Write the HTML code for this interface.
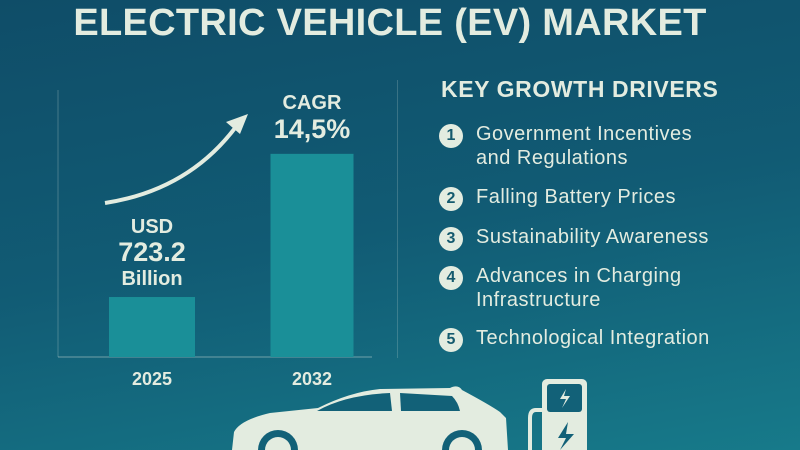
<!DOCTYPE html>
<html><head><meta charset="utf-8"><style>
html,body{margin:0;padding:0}
body{width:800px;height:450px;overflow:hidden;background:linear-gradient(170deg,#0f4d68 0%,#115b74 50%,#177a8a 100%);font-family:"Liberation Sans",sans-serif;color:#e3ece0;position:relative}
.t{position:absolute;white-space:nowrap}
</style></head><body>
<div class="t" style="left:0;width:780px;text-align:center;top:2px;font-size:38px;font-weight:bold;letter-spacing:0.3px">ELECTRIC VEHICLE (EV) MARKET</div>
<svg id="chart" width="400" height="450" style="position:absolute;left:0;top:0"></svg>
<div style="position:absolute;left:397px;top:80px;width:1px;height:278px;background:rgba(227,236,224,0.2)"></div>
<div class="t" style="left:441px;top:76px;font-size:23px;font-weight:bold;letter-spacing:0.6px">KEY GROWTH DRIVERS</div>
<div id="list"></div>
<svg width="800" height="450" style="position:absolute;left:0;top:0">
<path d="M232,450 L234,432 Q240,420 270,413 L318,408 Q350,392 380,389 L450,388 Q458,384 462,390 Q490,405 500,412 L506,418 L508,450 Z" fill="#e3ece0"/>
<path d="M317,411 Q345,395 390,393 L392,411 Z" fill="#126178"/>
<path d="M400,393 L452,396 Q458,402 460,411 L401,411 Z" fill="#126178"/>
<circle cx="278" cy="450" r="20" fill="#126178"/><circle cx="278" cy="450" r="13" fill="#e3ece0"/>
<circle cx="462" cy="450" r="20" fill="#126178"/><circle cx="462" cy="450" r="13" fill="#e3ece0"/>
<rect x="542" y="379" width="45" height="80" rx="5" fill="#e3ece0"/>
<rect x="547" y="384" width="35" height="28" rx="3" fill="#126178"/>
<path d="M566,389 L560,399 L566,399 L562,408 L570,396 L564,396 Z" fill="#e3ece0"/>
<path d="M568,422 L558,438 L566,438 L560,450 L574,434 L566,434 Z" fill="#126178"/>
<path d="M542,410 L536,410 Q530,410 530,418 L530,450" stroke="#e3ece0" stroke-width="4" fill="none"/>
</svg>
<script>
const categories=["2025","2032"];
const values=[723.2,2450];
const ns="http://www.w3.org/2000/svg";
const svg=document.getElementById('chart');
const x0=58,base=357,top0=90,xEnd=372;
const yMax=3220;
function y(v){return base-(v/yMax)*(base-top0);}
const centers=[152,312],bw=[86,83];
function mk(tag,a){const e=document.createElementNS(ns,tag);for(const k in a)e.setAttribute(k,a[k]);svg.appendChild(e);return e;}
let ax=mk('line',{x1:x0,y1:top0,x2:x0,y2:base,stroke:'rgba(227,236,224,0.25)','stroke-width':1});


let ax2=mk('line',{x1:x0,y1:base,x2:xEnd,y2:base,stroke:'rgba(227,236,224,0.3)','stroke-width':1.5});


categories.forEach((c,i)=>{
 const b=mk('rect',{x:centers[i]-bw[i]/2,y:y(values[i]),width:bw[i],height:base-y(values[i]),fill:'#1a8f98'});
 
 
 const t=mk('text',{x:centers[i],y:385,'text-anchor':'middle','font-size':18,'font-weight':'bold',fill:'#e3ece0'});
 t.textContent=c;
 
 
});
function txt(s,xx,yy,fs,name,bold){const t=mk('text',{x:xx,y:yy,'text-anchor':'middle','font-size':fs,'font-weight':bold?'bold':'normal',fill:'#e3ece0'});t.textContent=s;}
const b1=y(values[0]);
txt('USD',152,b1-64,20,'value-currency',true);
txt(values[0].toFixed(1),152,b1-36,27,'value-2025',true);
txt('Billion',152,b1-12,20,'value-unit',true);
const b2=y(values[1]);
txt('CAGR',312,b2-45,20,'cagr-label',true);
txt('14,5%',312,b2-16,27,'cagr-value',true);
const ar=mk('path',{d:'M105,203 Q190,190 238,124',stroke:'#e3ece0','stroke-width':4,fill:'none'});


const ah=mk('path',{d:'M248,114 L226,122 L240,134 Z',fill:'#e3ece0'});


const items=[["Government Incentives","and Regulations"],["Falling Battery Prices"],["Sustainability Awareness"],["Advances in Charging","Infrastructure"],["Technological Integration"]];
const tops=[121,184,224,263,325];
const list=document.getElementById('list');
items.forEach((it,i)=>{
 const c=document.createElement('div');
 c.className='t';
 
 
 c.style.cssText=`left:439px;top:${tops[i]+3}px;width:24px;height:24px;border-radius:50%;background:#e3ece0;color:#145a6e;font-weight:bold;font-size:16px;text-align:center;line-height:24px`;
 c.textContent=i+1;list.appendChild(c);
 const d=document.createElement('div');
 d.className='t';
 
 
 d.style.cssText=`left:476px;top:${tops[i]+2}px;font-size:20px;letter-spacing:0.5px;line-height:23.5px`;
 d.innerHTML=it.join('<br>');list.appendChild(d);
});
</script>
</body></html>
